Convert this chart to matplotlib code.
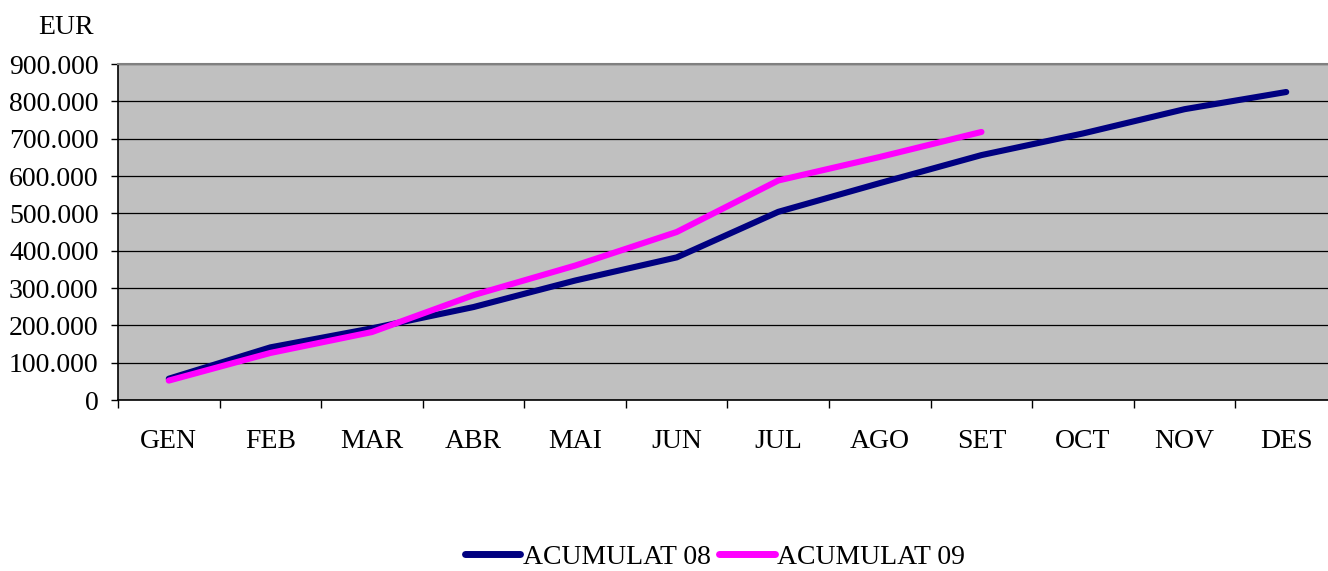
import matplotlib
matplotlib.use("Agg")
import matplotlib.pyplot as plt
from matplotlib.ticker import FuncFormatter, FixedLocator

months = ["GEN", "FEB", "MAR", "ABR", "MAI", "JUN", "JUL", "AGO", "SET", "OCT", "NOV", "DES"]
acumulat_08 = [57000, 141000, 192000, 249000, 320000, 382000, 504000, 581000, 656000, 714000, 779000, 825000]
acumulat_09 = [52000, 126000, 182000, 281000, 360000, 450000, 588000, 651000, 718000]
y_ticks = [0, 100000, 200000, 300000, 400000, 500000, 600000, 700000, 800000, 900000]

plt.rcParams['font.family'] = ['Liberation Serif', 'DejaVu Serif']
FS = 20

fig = plt.figure(figsize=(13.28, 5.71), dpi=100)
ax = fig.add_axes([118/1328, 1-400/571, (1337-118)/1328, (400-64)/571])
ax.set_facecolor('#C0C0C0')

x = list(range(len(months)))
ax.plot(x, acumulat_08, color='#000080', lw=4.4, solid_capstyle='round', solid_joinstyle='round', label='ACUMULAT 08', zorder=3)
ax.plot(x[:len(acumulat_09)], acumulat_09, color='#FF00FF', lw=4.4, solid_capstyle='round', solid_joinstyle='round', label='ACUMULAT 09', zorder=4)

ax.set_xlim(-0.5, 11.5)
ax.set_ylim(0, 900000)
ax.set_yticks(y_ticks)
ax.yaxis.set_major_formatter(FuncFormatter(lambda v, p: f"{int(v):,}".replace(",", ".")))
ax.yaxis.grid(True, color='black', lw=0.9, zorder=1)
ax.set_axisbelow(True)

ax.set_xticks(x)
ax.set_xticklabels(months)
ax.xaxis.set_minor_locator(FixedLocator([i - 0.5 for i in range(len(months) + 1)]))
ax.tick_params(axis='x', which='major', length=0, pad=21, labelsize=FS)
ax.tick_params(axis='x', which='minor', length=6, width=1, color='black', direction='out')
ax.tick_params(axis='y', length=5, width=1, color='black', direction='out', pad=9, labelsize=FS)

for s in ['left', 'bottom']:
    ax.spines[s].set_color('black')
    ax.spines[s].set_linewidth(1.2)
ax.spines['top'].set_color('#808080')
ax.spines['top'].set_linewidth(1.5)
ax.spines['right'].set_visible(False)

fig.text(66/1328, 1-27/571, 'EUR', fontsize=FS, ha='center', va='center')

leg = fig.legend(loc='center', bbox_to_anchor=(715/1328, 1-557/571), ncol=2, frameon=False,
                 fontsize=FS, handlelength=2.0, handletextpad=0.1, columnspacing=0.3)
for h in leg.get_lines():
    h.set_linewidth(5)

fig.savefig('out.png', dpi=100)
